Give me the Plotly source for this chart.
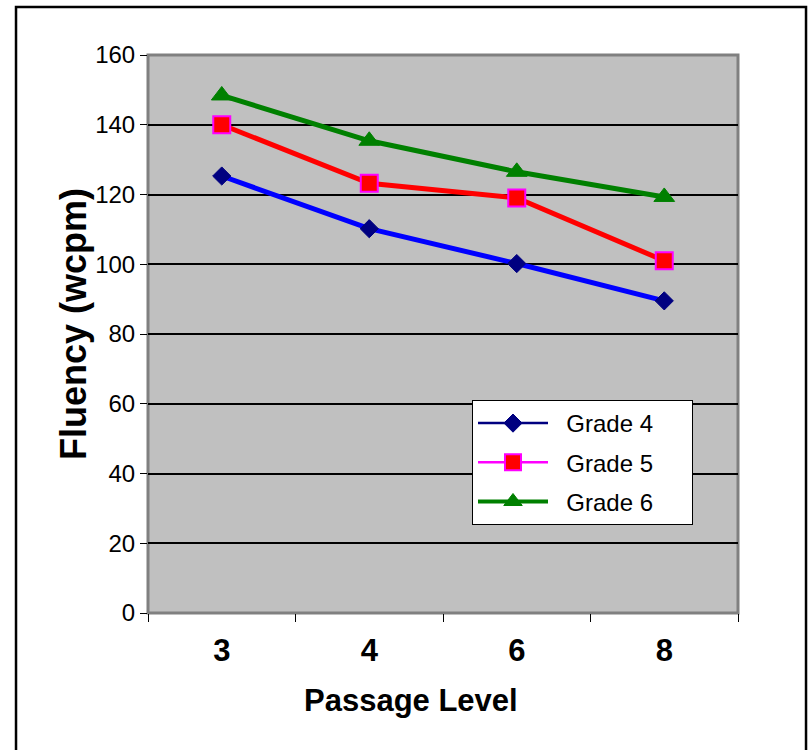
import plotly.graph_objects as go

# Passage levels (category axis) and fluency scores per grade
levels = ["3", "4", "6", "8"]
grade4 = [125.3, 110.2, 100.2, 89.5]
grade5 = [140.0, 123.2, 119.0, 101.0]
grade6 = [148.4, 135.4, 126.5, 119.3]
y_ticks = [0, 20, 40, 60, 80, 100, 120, 140, 160]

FONT = "Liberation Sans, Arial, sans-serif"
NB = "\u00a0"

fig = go.Figure()

series = [
    ("Grade 4", grade4, "#0000FF", dict(symbol="diamond", size=14, color="#000080",
                                         line=dict(color="#000080", width=1)),
     "#000080", 2.5),
    ("Grade 5", grade5, "#FF0000", dict(symbol="square", size=17, color="#FF0000",
                                         line=dict(color="#FF00FF", width=2)),
     "#FF00FF", 2.5),
    ("Grade 6", grade6, "#008000", dict(symbol="triangle-up", size=18, color="#008000",
                                         line=dict(color="#008000", width=1)),
     "#008000", 4),
]

for name, vals, lcolor, marker, legend_line, legend_w in series:
    # data lines
    fig.add_trace(go.Scatter(
        x=levels, y=vals, mode="lines+markers", name=name,
        line=dict(color=lcolor, width=5), marker=marker, showlegend=False,
    ))
    # legend entries styled like the chart key
    fig.add_trace(go.Scatter(
        x=[None], y=[None], mode="lines+markers",
        name=NB * 2 + name + NB * 5,
        line=dict(color=legend_line, width=legend_w), marker=marker,
        legendgroup=name, showlegend=True,
    ))

# gray frame around the plotting area
fig.add_shape(type="rect", xref="paper", yref="paper", x0=0, y0=0, x1=1, y1=1,
              line=dict(color="#808080", width=3), layer="below")
# outer chart border
fig.add_shape(type="rect", xref="paper", yref="paper",
              x0=-0.2237, y0=-0.27, x1=1.1153, y1=1.0861,
              line=dict(color="black", width=2.5))

fig.add_annotation(text="<b>Passage Level</b>", xref="paper", yref="paper",
                   x=(411 - 148) / 590, y=(613 - 700) / 558, showarrow=False,
                   xanchor="center", yanchor="middle",
                   font=dict(family=FONT, size=31, color="black"))
fig.add_annotation(text="<b>Fluency (wcpm)</b>", xref="paper", yref="paper",
                   x=(73 - 148) / 590, y=(613 - 324) / 558, showarrow=False,
                   xanchor="center", yanchor="middle",
                   textangle=-90, font=dict(family=FONT, size=36, color="black"))

fig.update_layout(
    width=808, height=750,
    margin=dict(l=148, r=70, t=55, b=137),
    paper_bgcolor="white", plot_bgcolor="#C0C0C0",
    font=dict(family=FONT, color="black"),
    legend=dict(
        x=(472 - 148) / 590, y=(613 - 400) / 558, xanchor="left", yanchor="top",
        bgcolor="white", bordercolor="black", borderwidth=1,
        font=dict(family=FONT, size=24, color="black"),
        itemwidth=70, tracegroupgap=5,
    ),
    xaxis=dict(
        type="category", categoryorder="array", categoryarray=levels,
        range=[-0.5, 3.5], tickson="boundaries", ticks="outside", ticklen=8,
        tickcolor="black", tickwidth=1, showgrid=False, zeroline=False,
        showline=False, tickfont=dict(family=FONT, size=31, color="black", weight="bold"),
        ticklabelstandoff=16,
    ),
    yaxis=dict(
        range=[0, 160], tickvals=y_ticks, ticks="outside", ticklen=7,
        tickcolor="black", tickwidth=1, showgrid=True, gridcolor="black",
        gridwidth=2, zeroline=False, showline=False,
        tickfont=dict(family=FONT, size=24, color="black"),
    ),
)

fig.write_html("out.html")
